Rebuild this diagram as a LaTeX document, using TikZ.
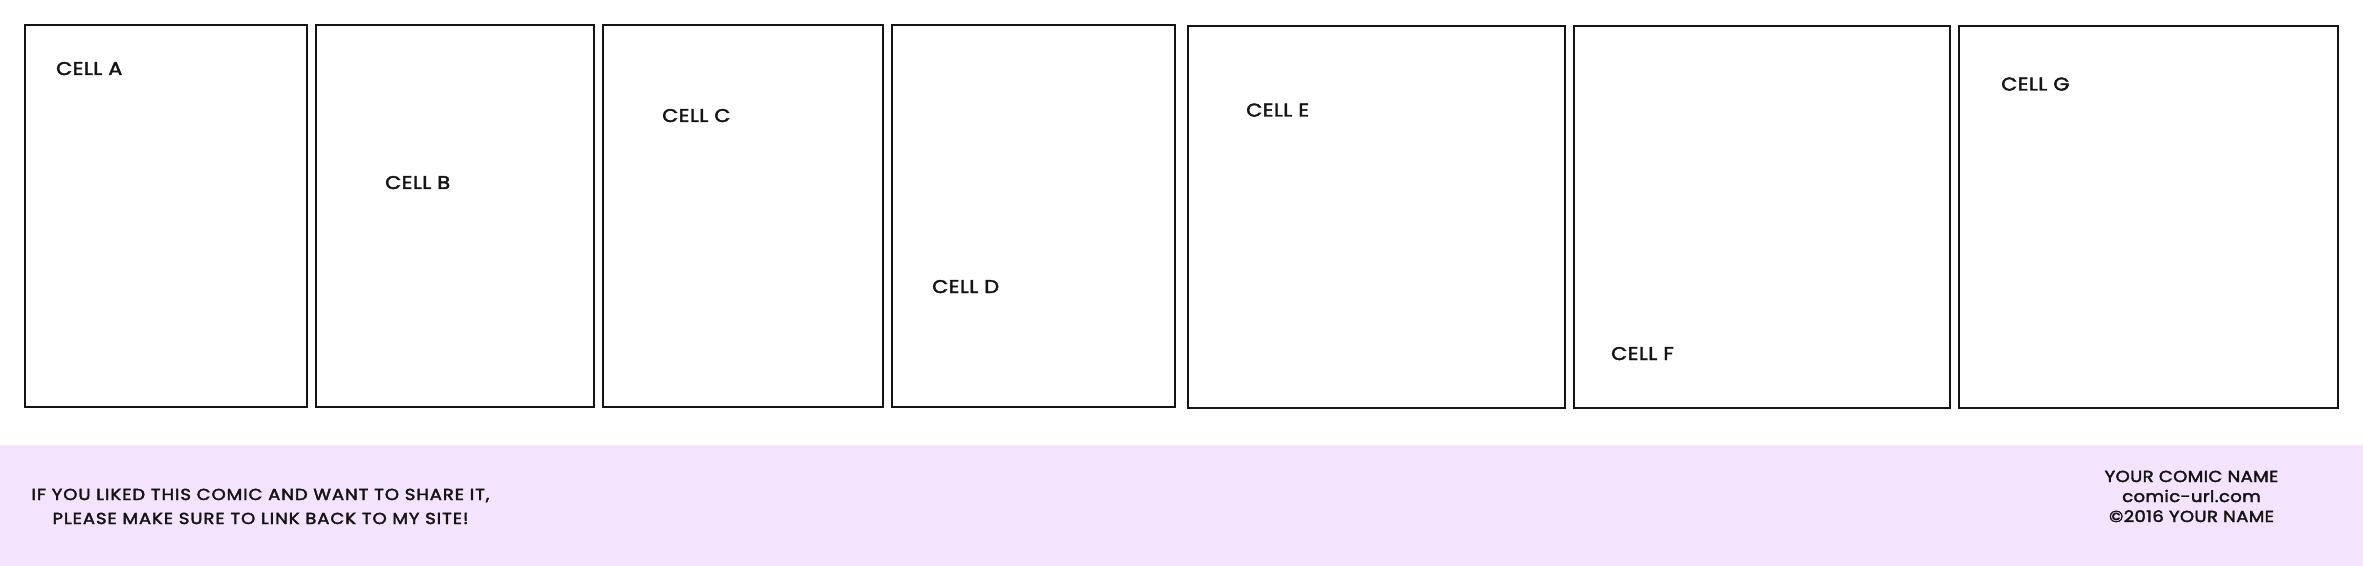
\documentclass[tikz,border=0pt]{standalone}
\usepackage{fontspec}
\setmainfont{Poppins}[FakeStretch=1.13, LetterSpace=2.5, FakeBold=2.5]
\newfontfamily\wideft{Poppins}[FakeStretch=1.13, LetterSpace=6, FakeBold=2.5]
\definecolor{band}{RGB}{243,227,253}
\definecolor{ink}{RGB}{20,20,20}
\tikzset{
  panel/.style={draw=ink, line width=2.2bp},
  celltext/.style={anchor=base west, inner sep=0pt, font=\fontsize{18.5}{22}\selectfont, text=ink},
  foottext/.style={anchor=base, inner sep=0pt, font=\fontsize{16}{20}\selectfont, text=ink},
  widetext/.style={foottext, font=\wideft\fontsize{16}{20}\selectfont}
}
\begin{document}
\begin{tikzpicture}[x=1bp,y=-1bp]
\useasboundingbox (0,0) rectangle (2363,566);
\fill[white] (0,0) rectangle (2363,566);
\fill[band] (0,445) rectangle (2363,566);
% panels
\draw[panel] (25,25) rectangle (307,407);
\draw[panel] (316,25) rectangle (594,407);
\draw[panel] (603,25) rectangle (883,407);
\draw[panel] (892,25) rectangle (1175,407);
\draw[panel] (1188,26) rectangle (1565,408);
\draw[panel] (1574,26) rectangle (1950,408);
\draw[panel] (1959,26) rectangle (2338,408);
% cell labels
\node[celltext] (ca) at (56,75) {CELL A};
\node[celltext] (cb) at (385,189) {CELL B};
\node[celltext] (cc) at (662,122) {CELL C};
\node[celltext] (cd) at (932,293) {CELL D};
\node[celltext] (ce) at (1246,116.5) {CELL E};
\node[celltext] (cf) at (1611,360) {CELL F};
\node[celltext] (cg) at (2001,90.5) {CELL G};
% footer
\node[widetext] (l1) at (260.5,500) {IF YOU LIKED THIS COMIC AND WANT TO SHARE IT,};
\node[widetext] (l2) at (260.5,524) {PLEASE MAKE SURE TO LINK BACK TO MY SITE!};
\node[foottext] (r1) at (2191.5,482) {YOUR COMIC NAME};
\node[foottext] (r2) at (2191.5,502) {comic-url.com};
\node[foottext] (r3) at (2191.5,522) {©2016 YOUR NAME};
\end{tikzpicture}
\end{document}
